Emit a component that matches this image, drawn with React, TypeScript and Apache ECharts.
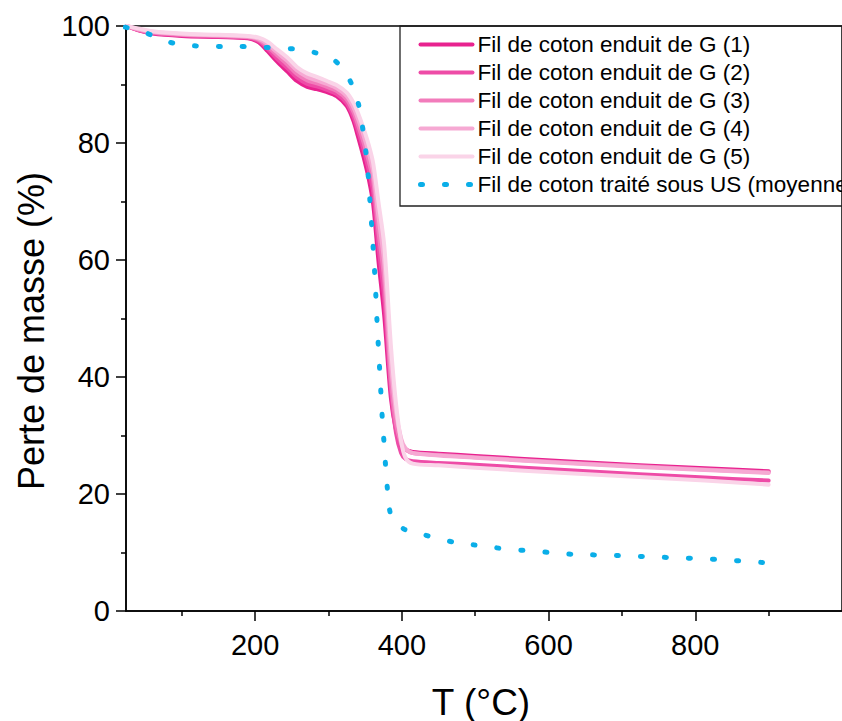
import React, { useEffect, useRef } from "react";
import * as echarts from "echarts";

// Temperatures (°C) shared by the five coated-yarn curves
const T_G = [25, 40, 60, 100, 150, 190, 205, 217, 230, 244, 257, 271, 284, 298, 311, 325, 334, 340, 348, 355, 361, 368, 376, 385, 392, 399, 405, 415, 450, 500, 634, 813, 900];
const G1 = [100, 99.3, 98.7, 98.3, 98.1, 97.9, 97.2, 95.7, 93.9, 92.2, 90.6, 89.6, 89.2, 88.7, 88.0, 86.3, 83.8, 81.2, 77.5, 73.8, 69.5, 60.0, 50.5, 36.5, 31.0, 28.4, 27.6, 27.2, 26.9, 26.5, 25.5, 24.4, 23.9];
const G2 = [100, 99.3, 98.8, 98.4, 98.2, 98.0, 97.4, 96.1, 94.4, 92.8, 91.2, 90.1, 89.7, 89.1, 88.4, 86.8, 84.5, 82.2, 78.8, 75.3, 71.5, 62.5, 53.5, 38.0, 30.5, 27.0, 26.0, 25.6, 25.3, 25.0, 24.0, 22.8, 22.3];
const G3 = [100, 99.4, 98.9, 98.5, 98.3, 98.1, 97.6, 96.5, 95.0, 93.4, 91.8, 90.7, 90.2, 89.6, 88.9, 87.4, 85.3, 83.2, 80.0, 76.8, 73.5, 65.0, 56.6, 39.5, 32.0, 28.6, 27.6, 27.0, 26.7, 26.3, 25.3, 24.2, 23.7];
const G4 = [100, 99.5, 99.0, 98.6, 98.4, 98.2, 97.8, 96.9, 95.5, 94.0, 92.4, 91.3, 90.7, 90.1, 89.4, 88.0, 86.1, 84.2, 81.2, 78.2, 75.0, 67.5, 59.5, 42.5, 34.0, 29.5, 27.8, 27.0, 26.6, 26.2, 25.2, 24.1, 23.6];
const G5 = [100, 99.6, 99.1, 98.7, 98.5, 98.3, 98.0, 97.3, 96.0, 94.6, 93.0, 91.9, 91.3, 90.6, 89.9, 88.6, 86.9, 85.2, 82.4, 79.6, 76.5, 70.0, 62.5, 45.5, 35.5, 29.0, 26.2, 25.2, 24.9, 24.5, 23.5, 22.3, 21.6];

// Ultrasound-treated yarn (average)
const T_US = [23, 50, 71, 95, 120, 152, 173, 206, 234, 259, 283, 305, 320, 334, 343, 348, 352, 355, 357, 359.4, 363.4, 366.5, 370.1, 373.6, 376, 378.2, 381, 386, 403, 426, 448, 474, 498, 523, 548, 574, 603, 633, 659, 690, 722, 751, 785, 812, 841, 868, 895];
const M_US = [99.8, 98.9, 97.7, 96.9, 96.6, 96.5, 96.5, 96.4, 96.2, 96.0, 95.4, 94.4, 92.6, 89.4, 85.5, 81.2, 77.4, 73.1, 69.1, 65.0, 56.9, 48.7, 40.5, 32.4, 28.3, 24.2, 20.1, 16.1, 14.0, 13.2, 12.4, 11.7, 11.3, 10.9, 10.5, 10.3, 10.0, 9.7, 9.6, 9.5, 9.35, 9.2, 9.06, 8.94, 8.72, 8.5, 8.26];

const NAMES = [
  "Fil de coton enduit de G (1)",
  "Fil de coton enduit de G (2)",
  "Fil de coton enduit de G (3)",
  "Fil de coton enduit de G (4)",
  "Fil de coton enduit de G (5)",
  "Fil de coton traité sous US (moyenne)",
];
const X_LABELS = [200, 400, 600, 800];
const X_MINOR = [100, 300, 500, 700, 900];

const FONT = "'Liberation Sans', Arial, sans-serif";
const PINKS = ["#E8228F", "#EE4CA7", "#F27CBB", "#F6A9D3", "#FAD4E8"];
const BLUE = "#0AAEE8";

export default function App() {
  const ref = useRef<HTMLDivElement>(null);
  useEffect(() => {
    if (!ref.current) return;
    const chart = echarts.init(ref.current, null, { renderer: "svg" });
    const pinkSets = [G1, G2, G3, G4, G5];
    const series: any[] = pinkSets.map((arr, k) => ({
      name: NAMES[k],
      type: "line",
      data: T_G.map((t, i) => [t, arr[i]]),
      symbol: "none",
      showSymbol: false,
      smooth: 0.3,
      lineStyle: { color: PINKS[k], width: 4, cap: "round", join: "round" },
      itemStyle: { color: PINKS[k] },
    }));
    series.push({
      name: NAMES[5],
      type: "line",
      data: T_US.map((t, i) => [t, M_US[i]]),
      symbol: "none",
      showSymbol: false,
      smooth: 0.3,
      lineStyle: { color: BLUE, width: 5, type: [2, 22], cap: "round" },
      itemStyle: { color: BLUE },
    });
    const legendData = NAMES.map((n, k) =>
      k < 5
        ? { name: n, lineStyle: { color: PINKS[k], width: 4, cap: "round" } }
        : { name: n, lineStyle: { color: BLUE, width: 5, type: [2, 22], cap: "round" } }
    );
    const axisLineStyle = { color: "#000", width: 1.5 };
    chart.setOption({
      animation: false,
      backgroundColor: "#ffffff",
      grid: {
        left: 126,
        top: 26,
        right: -9,
        bottom: 110,
        show: true,
        borderColor: "#000",
        borderWidth: 1.5,
      },
      legend: {
        data: legendData,
        orient: "vertical",
        left: 418,
        top: 33,
        padding: 0,
        itemWidth: 52,
        itemHeight: 14,
        itemGap: 5,
        itemStyle: { opacity: 0 },
        textStyle: { fontSize: 22.5, lineHeight: 22, color: "#000", fontFamily: FONT },
      },
      xAxis: [
        {
          type: "value",
          min: 24,
          max: 1000,
          axisLine: { show: true, lineStyle: axisLineStyle },
          axisTick: { show: true, customValues: X_LABELS, length: 10, lineStyle: axisLineStyle },
          axisLabel: { customValues: X_LABELS, fontSize: 29, color: "#000", margin: 19, fontFamily: FONT },
          splitLine: { show: false },
        },
        {
          type: "value",
          min: 24,
          max: 1000,
          position: "bottom",
          axisLine: { show: false },
          axisTick: { show: true, customValues: X_MINOR, length: 5, lineStyle: axisLineStyle },
          axisLabel: { show: false },
          splitLine: { show: false },
        },
      ],
      yAxis: {
        type: "value",
        min: 0,
        max: 100,
        interval: 20,
        axisLine: { show: true, lineStyle: axisLineStyle },
        axisTick: { show: true, length: 10, lineStyle: axisLineStyle },
        minorTick: { show: true, splitNumber: 2, length: 5, lineStyle: axisLineStyle },
        axisLabel: { fontSize: 29, color: "#000", margin: 16, fontFamily: FONT },
        splitLine: { show: false },
        minorSplitLine: { show: false },
      },
      graphic: [
        {
          type: "rect",
          shape: { x: 400, y: 26, width: 520, height: 180 },
          style: { fill: "none", stroke: "#222", lineWidth: 1.3 },
          z: 0,
        },
        {
          type: "text",
          x: 481,
          y: 702,
          style: { text: "T (°C)", fontSize: 37, fill: "#000", fontFamily: FONT, align: "center", verticalAlign: "middle" },
        },
        {
          type: "text",
          x: 31,
          y: 331,
          rotation: Math.PI / 2,
          style: { text: "Perte de masse (%)", fontSize: 36, fill: "#000", fontFamily: FONT, align: "center", verticalAlign: "middle" },
        },
      ],
      series,
    });
    return () => chart.dispose();
  }, []);
  return <div ref={ref} style={{ position: "absolute", left: 0, top: 0, width: 842, height: 721 }} />;
}
